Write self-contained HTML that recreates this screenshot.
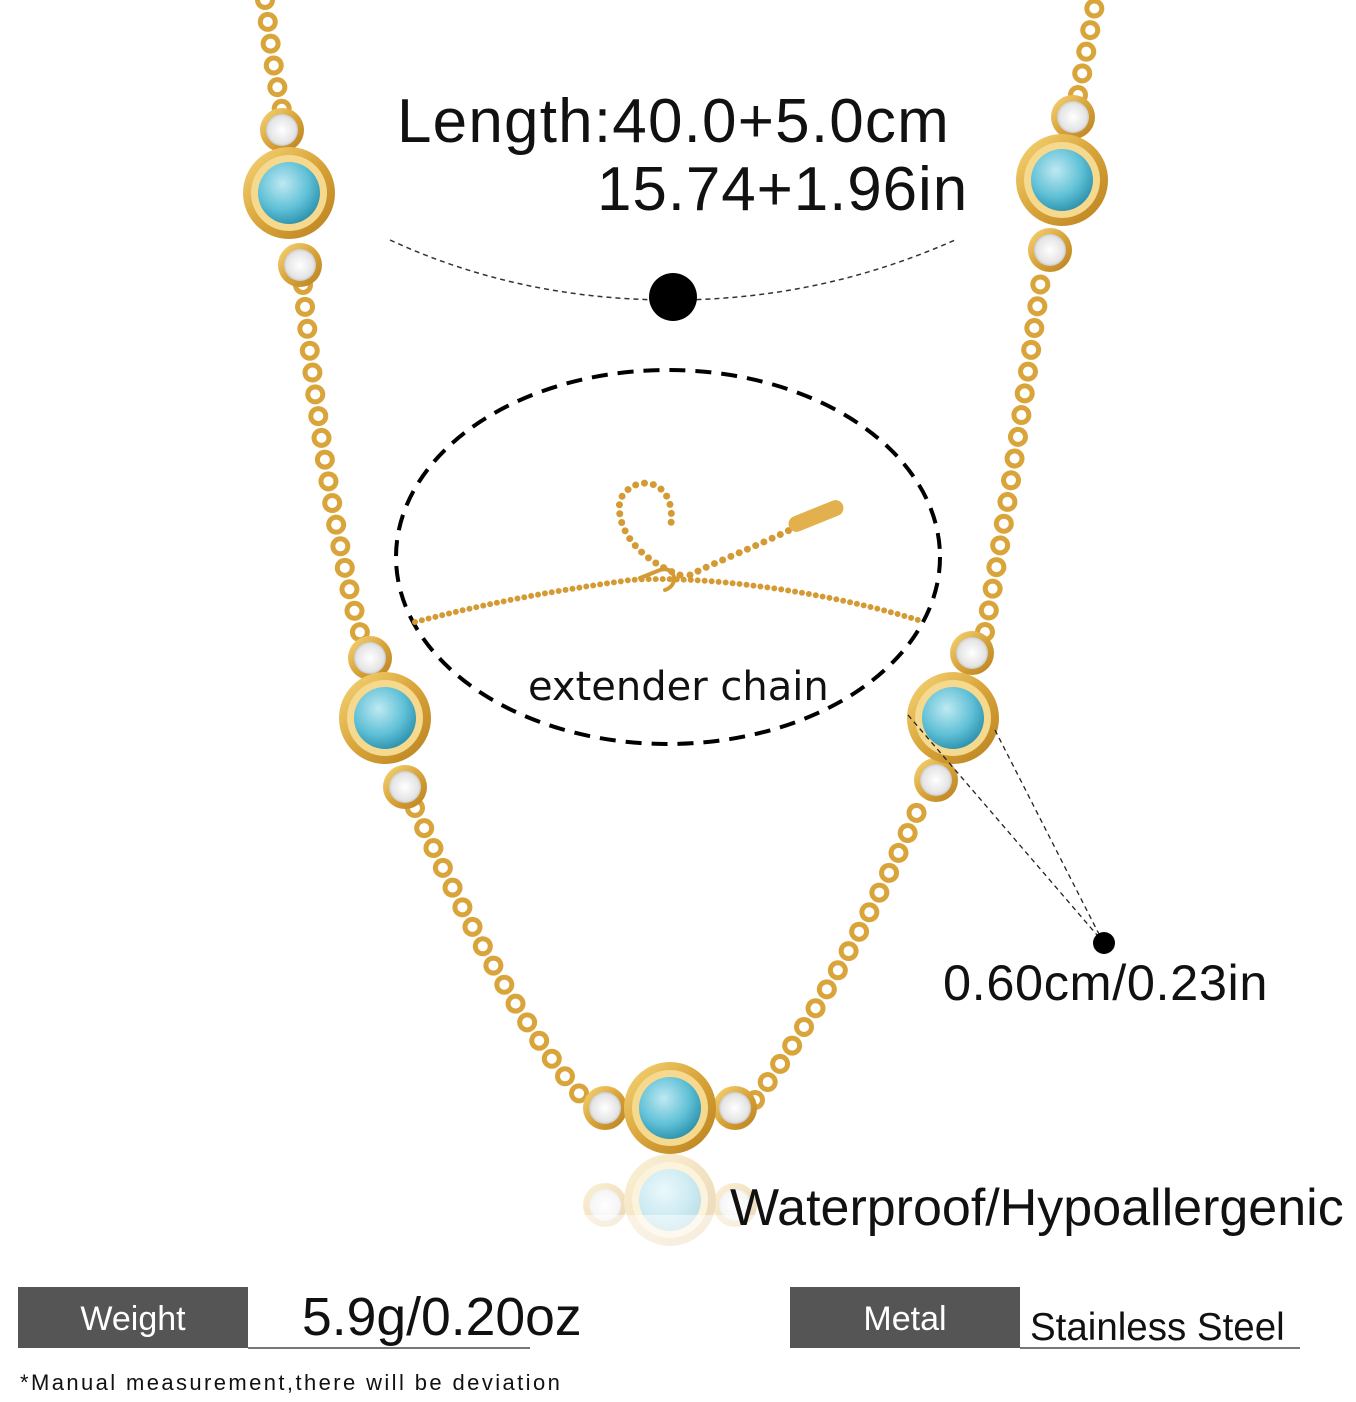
<!DOCTYPE html>
<html><head><meta charset="utf-8"><style>
html,body{margin:0;padding:0;background:#fff;}
svg{display:block;}
text{font-family:"Liberation Sans",sans-serif;fill:#111;}
</style></head><body>
<svg width="1356" height="1402" viewBox="0 0 1356 1402" xmlns="http://www.w3.org/2000/svg">
<defs>
<radialGradient id="tq" cx="40%" cy="35%" r="70%"><stop offset="0" stop-color="#bfe9f2"/><stop offset="0.6" stop-color="#5fc0d6"/><stop offset="1" stop-color="#2a8fab"/></radialGradient>
<radialGradient id="cr" cx="50%" cy="50%" r="60%"><stop offset="0" stop-color="#ffffff"/><stop offset="0.7" stop-color="#e4e4e4"/><stop offset="1" stop-color="#aaa"/></radialGradient>
<linearGradient id="gd" x1="0" y1="0" x2="1" y2="1"><stop offset="0" stop-color="#f7d77a"/><stop offset="0.5" stop-color="#d9a43a"/><stop offset="1" stop-color="#b8801e"/></linearGradient>
<g id="big"><circle r="46" fill="url(#gd)"/><circle r="38" fill="#f5d98e"/><circle r="31" fill="url(#tq)"/></g>
<g id="sm"><circle r="22" fill="url(#gd)"/><circle r="16" fill="url(#cr)"/></g>
</defs>
<rect width="1356" height="1402" fill="#fff"/>
<g fill="none" stroke-linecap="round">
<path d="M265 0 C270 40 275 80 282 110 M303 285 C315 420 340 560 362 640 M415 808 C470 930 530 1040 585 1100 M755 1100 C820 1010 880 900 922 800 M985 632 C1005 520 1025 400 1042 272 M1078 95 C1085 60 1090 30 1096 0" stroke="#d9a43a" stroke-width="20" stroke-dasharray="0 22"/>
<path d="M265 0 C270 40 275 80 282 110 M303 285 C315 420 340 560 362 640 M415 808 C470 930 530 1040 585 1100 M755 1100 C820 1010 880 900 922 800 M985 632 C1005 520 1025 400 1042 272 M1078 95 C1085 60 1090 30 1096 0" stroke="#fff" stroke-width="10" stroke-dasharray="0 22"/>
</g>
<use href="#sm" x="282" y="130"/><use href="#sm" x="300" y="265"/><use href="#big" x="289" y="193"/>
<use href="#sm" x="370" y="658"/><use href="#sm" x="405" y="787"/><use href="#big" x="385" y="718"/>
<use href="#sm" x="605" y="1108"/><use href="#sm" x="735" y="1108"/><use href="#big" x="670" y="1108"/>
<use href="#sm" x="972" y="653"/><use href="#sm" x="936" y="780"/><use href="#big" x="953" y="718"/>
<use href="#sm" x="1073" y="117"/><use href="#sm" x="1050" y="250"/><use href="#big" x="1062" y="180"/>
<g opacity="0.3"><use href="#sm" x="605" y="1205"/><use href="#sm" x="735" y="1205"/><use href="#big" x="670" y="1200"/></g>
<rect x="520" y="1215" width="300" height="50" fill="#fff" opacity="0.5"/>
<text x="397" y="142" font-size="62" letter-spacing="1.2">Length:40.0+5.0cm</text>
<text x="597" y="210" font-size="62" letter-spacing="0.9">15.74+1.96in</text>
<path d="M390 240 Q520 300 672 300 Q820 300 955 240" fill="none" stroke="#333" stroke-width="1.5" stroke-dasharray="5 4"/>
<circle cx="673" cy="297" r="24" fill="#000"/>
<ellipse cx="668" cy="557" rx="272" ry="187" fill="none" stroke="#000" stroke-width="4" stroke-dasharray="16 10"/>
<g fill="none" stroke="#d49b34" stroke-linecap="round">
<path d="M415 622 C500 600 560 590 630 580 C700 575 820 590 918 620" stroke-width="6" stroke-dasharray="0 7"/>
<path d="M680 575 C640 560 615 530 620 500 C635 470 680 480 670 530 M690 575 C720 560 760 545 800 525" stroke-width="7" stroke-dasharray="0 9"/>
<path d="M640 578 L660 570 C675 565 680 585 665 590" stroke-width="4"/>
</g>
<rect x="787" y="508" width="58" height="16" rx="8" fill="#e2b04c" transform="rotate(-22 816 516)"/>
<text x="528" y="700" font-size="40" style="font-family:'DejaVu Sans',sans-serif">extender chain</text>
<path d="M908 715 L1103 942 M995 730 L1103 942" stroke="#222" stroke-width="1.3" stroke-dasharray="5 4" fill="none"/>
<circle cx="1104" cy="943" r="11" fill="#000"/>
<text x="943" y="1000" font-size="50.5" letter-spacing="0.6">0.60cm/0.23in</text>
<text x="730" y="1225" font-size="52">Waterproof/Hypoallergenic</text>
<rect x="18" y="1287" width="230" height="61" fill="#555"/>
<text x="133" y="1330" font-size="34" text-anchor="middle" style="fill:#fff">Weight</text>
<line x1="248" y1="1348" x2="530" y2="1348" stroke="#777" stroke-width="2"/>
<text x="302" y="1335" font-size="53.5">5.9g/0.20oz</text>
<rect x="790" y="1287" width="230" height="61" fill="#555"/>
<text x="905" y="1330" font-size="34" text-anchor="middle" style="fill:#fff">Metal</text>
<line x1="1020" y1="1348" x2="1300" y2="1348" stroke="#777" stroke-width="2"/>
<text x="1030" y="1340" font-size="38.5">Stainless Steel</text>
<text x="20" y="1390" font-size="22" letter-spacing="2.4">*Manual measurement,there will be deviation</text>
</svg>
</body></html>
